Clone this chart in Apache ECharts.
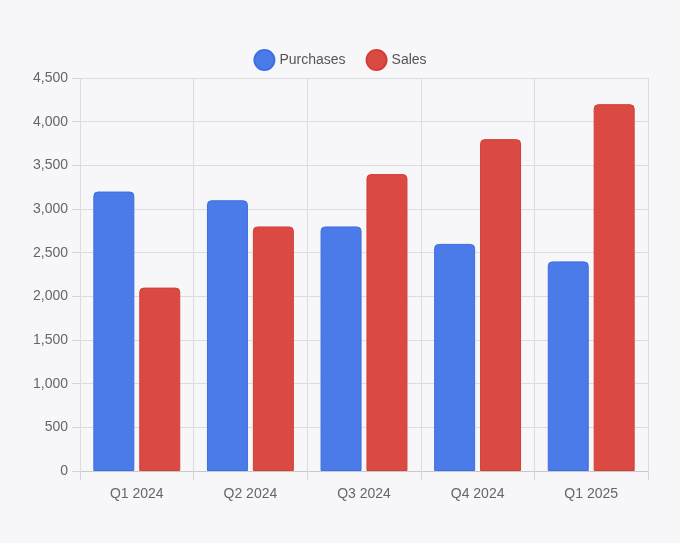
<!DOCTYPE html>
<html>
<head>
    <meta charset="utf-8">
    <title>Purchases vs Sales</title>
    <script src="https://cdn.jsdelivr.net/npm/echarts@6/dist/echarts.min.js"></script>
</head>
<style>
    body
    {
        margin:0;
        background-color:#f7f7f9;
    }
    #main
    {
        width:680px;
        height:543px;
    }
</style>
<body>
    <div id="main"></div>
    <script type="text/javascript">
        var quarters = ['Q1 2024', 'Q2 2024', 'Q3 2024', 'Q4 2024', 'Q1 2025'];
        var purchases = [3200, 3100, 2800, 2600, 2400];
        var sales = [2100, 2800, 3400, 3800, 4200];

        var myChart = echarts.init(document.getElementById('main'));

        var option = {
            backgroundColor: '#f7f7f9',
            textStyle: { fontFamily: '"Liberation Sans", Arial, sans-serif' },
            legend: {
                top: 44,
                left: 'center',
                icon: 'circle',
                itemWidth: 20,
                itemHeight: 20,
                itemGap: 20,
                textStyle: { color: '#555', fontSize: 14 },
                data: ['Purchases', 'Sales']
            },
            grid: {
                left: 80,
                right: 32,
                top: 78,
                bottom: 72
            },
            xAxis: {
                type: 'category',
                data: quarters,
                axisLine: { lineStyle: { color: '#c8c8c8' } },
                axisTick: { show: true, length: 9, lineStyle: { color: '#d6d6d6' } },
                splitLine: { show: true, lineStyle: { color: '#dcdcdc' } },
                axisLabel: { color: '#666', fontSize: 14, margin: 16 }
            },
            yAxis: {
                type: 'value',
                min: 0,
                max: 4500,
                interval: 500,
                axisLine: { show: false },
                axisTick: { show: true, length: 8, lineStyle: { color: '#d6d6d6' } },
                splitLine: { lineStyle: { color: '#dcdcdc' } },
                axisLabel: {
                    color: '#666',
                    fontSize: 14,
                    margin: 12,
                    formatter: function (v) { return v.toLocaleString('en-US'); }
                }
            },
            series: [
                {
                    name: 'Purchases',
                    type: 'bar',
                    data: purchases,
                    barWidth: 41,
                    barGap: '12%',
                    itemStyle: {
                        color: '#4a7be8',
                        borderColor: '#3e6fe0',
                        borderWidth: 1,
                        borderRadius: [4, 4, 0, 0]
                    }
                },
                {
                    name: 'Sales',
                    type: 'bar',
                    data: sales,
                    barWidth: 41,
                    itemStyle: {
                        color: '#da4a43',
                        borderColor: '#d23f38',
                        borderWidth: 1,
                        borderRadius: [4, 4, 0, 0]
                    }
                }
            ]
        };
        myChart.setOption(option);
    </script>
</body>
</html>
